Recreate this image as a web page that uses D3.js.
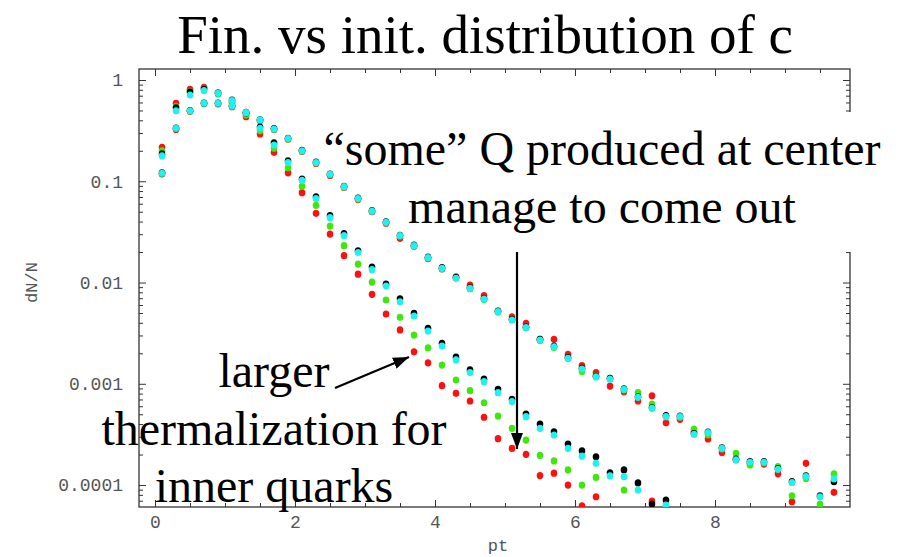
<!DOCTYPE html>
<html>
<head>
<meta charset="utf-8">
<script src="https://cdn.jsdelivr.net/npm/d3@7"></script>
<style>
  body { margin: 0; background: #fff; }
  svg { display: block; }
</style>
</head>
<body>
<div id="chart"></div>
<script>
// pt bins (centres)
var pt = [0.1, 0.3, 0.5, 0.7, 0.9, 1.1, 1.3, 1.5, 1.7, 1.9,
  2.1, 2.3, 2.5, 2.7, 2.9, 3.1, 3.3, 3.5, 3.7, 3.9,
  4.1, 4.3, 4.5, 4.7, 4.9, 5.1, 5.3, 5.5, 5.7, 5.9,
  6.1, 6.3, 6.5, 6.7, 6.9, 7.1, 7.3, 7.5, 7.7, 7.9,
  8.1, 8.3, 8.5, 8.7, 8.9, 9.1, 9.3, 9.5, 9.7];

// final distributions (steep)
var finRed = [0.216, 0.589, 0.809, 0.847, 0.744, 0.593, 0.434, 0.293, 0.193, 0.121,
  0.0771, 0.0482, 0.0301, 0.0184, 0.0121, 0.00765, 0.00489, 0.00340, 0.00207, 0.00161,
  0.000957, 0.000805, 0.000676, 0.000467, 0.000287, 0.000230, 0.000201, 0.000124, 0.000131, 0.000100,
  0.0000624, 0.0000766, null, null, null, 0.0000695, null, null, null, null,
  null, null, null, null, null, null, null, null, null];
var finGreen = [0.200, 0.545, 0.767, 0.820, 0.727, 0.606, 0.451, 0.316, 0.212, 0.136,
  0.0892, 0.0579, 0.0361, 0.0231, 0.0152, 0.0101, 0.00672, 0.00453, 0.00303, 0.00227,
  0.00153, 0.00109, 0.000854, 0.000650, 0.000480, 0.000363, 0.000278, 0.000196, 0.000173, 0.000141,
  0.000100, 0.000119, null, 0.0000893, null, null, null, null, null, null,
  null, null, null, null, null, null, null, null, null];
var finBlack = [0.186, 0.530, 0.760, 0.815, 0.744, 0.634, 0.472, 0.343, 0.239, 0.159,
  0.105, 0.0700, 0.0457, 0.0305, 0.0206, 0.0142, 0.00964, 0.00690, 0.00497, 0.00353,
  0.00251, 0.00183, 0.00137, 0.00111, 0.000881, 0.000702, 0.000502, 0.000400, 0.000336, 0.000254,
  0.000218, 0.000190, 0.000132, 0.000141, 0.000105, 0.0000649, 0.0000711, null, null, null,
  null, null, null, null, null, null, null, null, null];
var finCyan = [0.178, 0.497, 0.711, 0.784, 0.739, 0.625, 0.475, 0.333, 0.228, 0.153,
  0.102, 0.0676, 0.0437, 0.0290, 0.0198, 0.0134, 0.00923, 0.00646, 0.00467, 0.00332,
  0.00236, 0.00172, 0.00129, 0.00105, 0.000816, 0.000665, 0.000473, 0.000363, 0.000312, 0.000230,
  0.000193, 0.000164, 0.000123, 0.000121, 0.0000893, null, 0.0000634, null, null, null,
  null, null, null, null, null, null, null, null, null];

// initial distributions (shallow)
var initRed = [0.118, 0.325, 0.490, 0.585, 0.580, 0.545, 0.470, 0.398, 0.325, 0.260,
  0.197, 0.150, 0.114, 0.0870, 0.0660, 0.0500, 0.0385, 0.0273, 0.0228, 0.0172,
  0.0136, 0.0114, 0.00945, 0.00741, 0.00520, 0.00459, 0.00395, 0.00275, 0.00275, 0.00195,
  0.00151, 0.00129, 0.000950, 0.000834, 0.000676, 0.000762, 0.000412, 0.000446, 0.000336, 0.000285,
  0.000210, 0.000178, 0.000163, 0.000161, 0.000129, 0.0000684, 0.000164, null, 0.0000847];
var initGreen = [0.119, 0.330, 0.495, 0.587, 0.586, 0.550, 0.474, 0.400, 0.327, 0.262,
  0.199, 0.152, 0.116, 0.0878, 0.0668, 0.0505, 0.0390, 0.0288, 0.0230, 0.0175,
  0.0137, 0.0111, 0.00870, 0.00680, 0.00512, 0.00430, 0.00360, 0.00268, 0.00228, 0.00180,
  0.00132, 0.00120, 0.00113, 0.000870, 0.000816, 0.000631, 0.000480, 0.000470, 0.000357, 0.000314,
  0.000228, 0.000206, 0.000158, 0.000166, 0.000152, 0.0000784, 0.000116, 0.0000649, 0.000129];
var initBlack = [0.121, 0.335, 0.500, 0.592, 0.592, 0.557, 0.479, 0.405, 0.331, 0.266,
  0.202, 0.155, 0.118, 0.0892, 0.0680, 0.0512, 0.0397, 0.0293, 0.0234, 0.0178,
  0.0140, 0.0112, 0.00888, 0.00695, 0.00522, 0.00432, 0.00362, 0.00274, 0.00235, 0.00181,
  0.00142, 0.00119, 0.00113, 0.000893, 0.000745, 0.000580, 0.000486, 0.000480, 0.000322, 0.000334,
  0.000233, 0.000180, 0.000170, 0.000170, 0.000145, 0.000108, 0.000123, 0.0000780, 0.000108];
var initCyan = [0.120, 0.333, 0.497, 0.589, 0.589, 0.554, 0.476, 0.403, 0.328, 0.264,
  0.200, 0.153, 0.117, 0.0884, 0.0673, 0.0508, 0.0393, 0.0290, 0.0231, 0.0176,
  0.0138, 0.0110, 0.00877, 0.00687, 0.00515, 0.00426, 0.00358, 0.00270, 0.00232, 0.00178,
  0.00140, 0.00117, 0.00111, 0.000881, 0.000735, 0.000572, 0.000473, 0.000473, 0.000317, 0.000329,
  0.000230, 0.000177, 0.000168, 0.000168, 0.000143, 0.000106, 0.000121, 0.0000766, 0.000115];

var xTicks = [0, 2, 4, 6, 8];
var yTicks = [1, 0.1, 0.01, 0.001, 0.0001];
var yTickLabels = ["1", "0.1", "0.01", "0.001", "0.0001"];

var series = [
  { color: "#ff1010", fin: finRed, init: initRed },
  { color: "#3ee80e", fin: finGreen, init: initGreen },
  { color: "#000000", fin: finBlack, init: initBlack },
  { color: "#1ff0f0", fin: finCyan, init: initCyan }
];

var width = 902, height = 557;
var margin = { top: 69, right: 52, bottom: 50, left: 139 };
var w = width - margin.left - margin.right;
var h = height - margin.top - margin.bottom;

var mono = "'Liberation Mono', 'Courier New', monospace";
var serif = "'Liberation Serif', 'Times New Roman', serif";

var svg = d3.select("#chart").append("svg")
  .attr("width", width)
  .attr("height", height);

var x = d3.scaleLinear().domain([-0.229, 9.929]).range([0, w]);
var y = d3.scaleLog().domain([6.07e-5, 1.284]).range([h, 0]);

var g = svg.append("g")
  .attr("transform", "translate(" + margin.left + "," + margin.top + ")");

var minorX = d3.range(0, 10, 0.5).filter(function(d) { return d % 2 != 0; });
var minorY = [];
[-5, -4, -3, -2, -1, 0].forEach(function(e) {
  for (var m = 2; m <= 9; m++) {
    var v = m * Math.pow(10, e);
    if (v > y.domain()[0] && v < y.domain()[1]) minorY.push(v);
  }
});

function styleAxis(sel) {
  sel.select(".domain").remove();
  sel.selectAll("line").attr("stroke", "#333").attr("stroke-width", 1);
  sel.selectAll("text")
    .attr("font-family", mono)
    .attr("font-size", 18)
    .attr("fill", "#555");
}

// bottom
g.append("g").attr("transform", "translate(0," + h + ")")
  .call(d3.axisBottom(x).tickValues(xTicks).tickSize(-7).tickPadding(8).tickFormat(d3.format("d")))
  .call(styleAxis);
g.append("g").attr("transform", "translate(0," + h + ")")
  .call(d3.axisBottom(x).tickValues(minorX).tickSize(-4).tickFormat(""))
  .call(styleAxis);
// top
g.append("g")
  .call(d3.axisTop(x).tickValues(xTicks).tickSize(-7).tickFormat(""))
  .call(styleAxis);
g.append("g")
  .call(d3.axisTop(x).tickValues(minorX).tickSize(-4).tickFormat(""))
  .call(styleAxis);
// left
g.append("g")
  .call(d3.axisLeft(y).tickValues(yTicks).tickSize(-7).tickPadding(16)
    .tickFormat(function(d, i) { return yTickLabels[i]; }))
  .call(styleAxis);
g.append("g")
  .call(d3.axisLeft(y).tickValues(minorY).tickSize(-4).tickFormat(""))
  .call(styleAxis);
// right
g.append("g").attr("transform", "translate(" + w + ",0)")
  .call(d3.axisRight(y).tickValues(yTicks).tickSize(-7).tickFormat(""))
  .call(styleAxis);
g.append("g").attr("transform", "translate(" + w + ",0)")
  .call(d3.axisRight(y).tickValues(minorY).tickSize(-4).tickFormat(""))
  .call(styleAxis);

// frame
g.append("rect")
  .attr("width", w).attr("height", h)
  .attr("fill", "none")
  .attr("stroke", "#333")
  .attr("stroke-width", 1.3);

// axis titles
svg.append("text")
  .attr("x", margin.left + x(4.9)).attr("y", 551)
  .attr("text-anchor", "middle")
  .attr("font-family", mono)
  .attr("font-size", 17).attr("fill", "#555")
  .text("pt");
svg.append("text")
  .attr("transform", "translate(37," + (margin.top + y(0.01)) + ") rotate(-90)")
  .attr("text-anchor", "middle")
  .attr("font-family", mono)
  .attr("font-size", 17).attr("fill", "#555")
  .text("dN/N");

// dots
svg.append("clipPath").attr("id", "plotclip")
  .append("rect").attr("width", w).attr("height", h);
var dots = g.append("g").attr("clip-path", "url(#plotclip)");

series.forEach(function(s) {
  ["init", "fin"].forEach(function(k) {
    var pts = pt.map(function(p, i) { return { p: p, v: s[k][i] }; })
      .filter(function(d) { return d.v != null; });
    dots.selectAll(null)
      .data(pts)
      .enter().append("ellipse")
      .attr("cx", function(d) { return x(d.p); })
      .attr("cy", function(d) { return y(d.v); })
      .attr("rx", 3.3)
      .attr("ry", 3.6)
      .attr("fill", s.color);
  });
});

// annotations
svg.append("text")
  .attr("x", 485).attr("y", 53)
  .attr("text-anchor", "middle")
  .attr("font-family", serif).attr("font-size", 55)
  .text("Fin. vs init. distribution of c");

// white text box behind the upper note
svg.append("rect").attr("x", 336).attr("y", 112).attr("width", 545).attr("height", 64).attr("fill", "#fff");
svg.append("rect").attr("x", 430).attr("y", 176).attr("width", 451).attr("height", 76).attr("fill", "#fff");

var note1 = ["\u201csome\u201d Q produced at center", "manage to come out"];
svg.selectAll(null).data(note1).enter().append("text")
  .attr("x", 602)
  .attr("y", function(d, i) { return 165 + i * 58; })
  .attr("text-anchor", "middle")
  .attr("font-family", serif).attr("font-size", 48)
  .text(function(d) { return d; });

var note2 = ["larger", "thermalization for", "inner quarks"];
svg.selectAll(null).data(note2).enter().append("text")
  .attr("x", 274)
  .attr("y", function(d, i) { return 387 + i * 57.5; })
  .attr("text-anchor", "middle")
  .attr("font-family", serif).attr("font-size", 48)
  .text(function(d) { return d; });

var defs = svg.append("defs");
defs.append("marker")
  .attr("id", "head")
  .attr("viewBox", "0 0 16 12")
  .attr("refX", 16).attr("refY", 6)
  .attr("markerWidth", 16).attr("markerHeight", 12)
  .attr("markerUnits", "userSpaceOnUse")
  .attr("orient", "auto")
  .append("path").attr("d", "M0,0 L16,6 L0,12 z").attr("fill", "#000");

svg.append("line")
  .attr("x1", 335).attr("y1", 388).attr("x2", 409).attr("y2", 357)
  .attr("stroke", "#000").attr("stroke-width", 2.2)
  .attr("marker-end", "url(#head)");
svg.append("line")
  .attr("x1", 517).attr("y1", 252).attr("x2", 517).attr("y2", 449)
  .attr("stroke", "#000").attr("stroke-width", 2.2)
  .attr("marker-end", "url(#head)");
</script>
</body>
</html>
